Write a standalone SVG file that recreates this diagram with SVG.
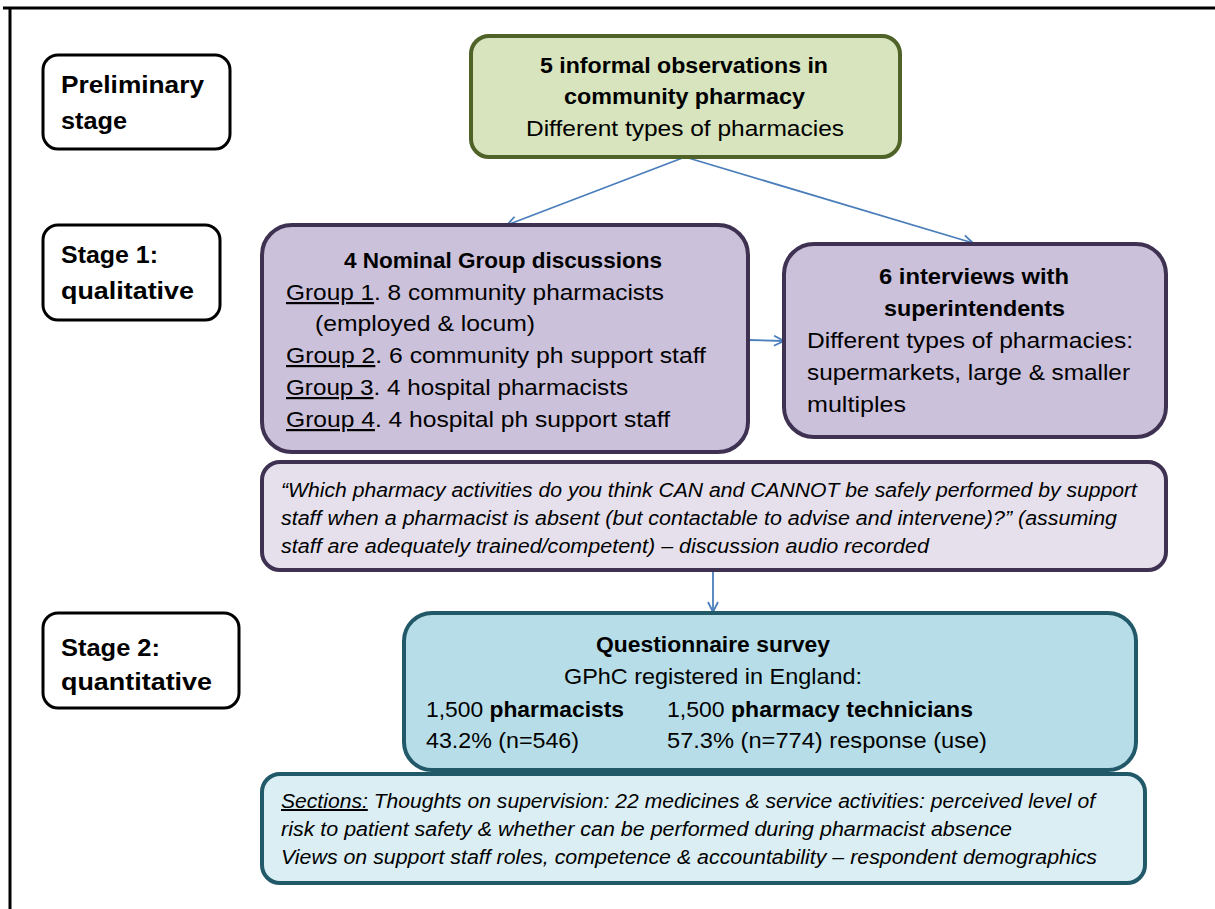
<svg xmlns="http://www.w3.org/2000/svg" width="1215" height="909" viewBox="0 0 1215 909">
<defs>
<style>
text{font-family:"Liberation Sans",Arial,sans-serif;fill:#000}
.st{font-size:23px;font-weight:bold}
.b{font-size:22px;font-weight:bold}
.r{font-size:22px}
.i{font-size:20px;font-style:italic}
.u{text-decoration:underline}
.stage{fill:#fff;stroke:#000;stroke-width:3}
.green{fill:#d7e4bd;stroke:#4f6228;stroke-width:4}
.purple{fill:#ccc1da;stroke:#3f3151;stroke-width:4}
.lilac{fill:#e5e0ec;stroke:#3f3151;stroke-width:4}
.teal{fill:#b7dee8;stroke:#215968;stroke-width:4}
.lteal{fill:#dbeef4;stroke:#215968;stroke-width:4}
.conn{fill:none;stroke:#4a7ebb;stroke-width:1.8}
</style>
<marker id="arr" viewBox="0 0 12 12" refX="11" refY="6" markerWidth="12" markerHeight="12" markerUnits="userSpaceOnUse" orient="auto">
<path d="M1,1 L11,6 L1,11" fill="none" stroke="#4a7ebb" stroke-width="1.8"/>
</marker>
</defs>
<rect width="1215" height="909" fill="#fff"/>
<path d="M3,8 H1215 M10,8 V909" stroke="#000" stroke-width="3" fill="none"/>

<g id="connectors">
<line class="conn" x1="685" y1="157" x2="507" y2="225" marker-end="url(#arr)"/>
<line class="conn" x1="685" y1="157" x2="973" y2="243" marker-end="url(#arr)"/>
<line class="conn" x1="748" y1="340" x2="784" y2="341" marker-end="url(#arr)"/>
<line class="conn" x1="713" y1="570" x2="713" y2="612" marker-end="url(#arr)"/>
</g>

<g id="preliminary">
<rect class="stage" x="43" y="55" width="187" height="94" rx="15"/>
<text class="st" x="61" y="93" textLength="143" lengthAdjust="spacingAndGlyphs">Preliminary</text>
<text class="st" x="61" y="129" textLength="66" lengthAdjust="spacingAndGlyphs">stage</text>
</g>
<g id="stage1">
<rect class="stage" x="43" y="225" width="177" height="95" rx="15"/>
<text class="st" x="61" y="263" textLength="97" lengthAdjust="spacingAndGlyphs">Stage 1:</text>
<text class="st" x="61" y="299" textLength="133" lengthAdjust="spacingAndGlyphs">qualitative</text>
</g>
<g id="stage2">
<rect class="stage" x="43" y="613" width="196" height="95" rx="15"/>
<text class="st" x="61" y="656" textLength="99" lengthAdjust="spacingAndGlyphs">Stage 2:</text>
<text class="st" x="61" y="690" textLength="151" lengthAdjust="spacingAndGlyphs">quantitative</text>
</g>

<g id="observations">
<rect class="green" x="471" y="36" width="429" height="121" rx="18"/>
<text class="b" x="540" y="73" textLength="288" lengthAdjust="spacingAndGlyphs">5 informal observations in</text>
<text class="b" x="564" y="104" textLength="241" lengthAdjust="spacingAndGlyphs">community pharmacy</text>
<text class="r" x="526" y="136" textLength="318" lengthAdjust="spacingAndGlyphs">Different types of pharmacies</text>
</g>

<g id="nominal">
<rect class="purple" x="262" y="225" width="486" height="227" rx="30"/>
<text class="b" x="344" y="268" textLength="318" lengthAdjust="spacingAndGlyphs">4 Nominal Group discussions</text>
<text class="r" x="286" y="300" textLength="378" lengthAdjust="spacingAndGlyphs"><tspan class="u">Group 1</tspan>. 8 community pharmacists</text>
<text class="r" x="315" y="331" textLength="220" lengthAdjust="spacingAndGlyphs">(employed &amp; locum)</text>
<text class="r" x="286" y="363" textLength="420" lengthAdjust="spacingAndGlyphs"><tspan class="u">Group 2</tspan>. 6 community ph support staff</text>
<text class="r" x="286" y="395" textLength="342" lengthAdjust="spacingAndGlyphs"><tspan class="u">Group 3</tspan>. 4 hospital pharmacists</text>
<text class="r" x="286" y="427" textLength="384" lengthAdjust="spacingAndGlyphs"><tspan class="u">Group 4</tspan>. 4 hospital ph support staff</text>
</g>

<g id="interviews">
<rect class="purple" x="784" y="244" width="382" height="193" rx="30"/>
<text class="b" x="879" y="284" textLength="190" lengthAdjust="spacingAndGlyphs">6 interviews with</text>
<text class="b" x="884" y="316" textLength="181" lengthAdjust="spacingAndGlyphs">superintendents</text>
<text class="r" x="807" y="348" textLength="326" lengthAdjust="spacingAndGlyphs">Different types of pharmacies:</text>
<text class="r" x="807" y="380" textLength="323" lengthAdjust="spacingAndGlyphs">supermarkets, large &amp; smaller</text>
<text class="r" x="807" y="412" textLength="99" lengthAdjust="spacingAndGlyphs">multiples</text>
</g>

<g id="question">
<rect class="lilac" x="262" y="462" width="904" height="108" rx="18"/>
<text class="i" x="281" y="497" textLength="856" lengthAdjust="spacingAndGlyphs">“Which pharmacy activities do you think CAN and CANNOT be safely performed by support</text>
<text class="i" x="281" y="525" textLength="836" lengthAdjust="spacingAndGlyphs">staff when a pharmacist is absent (but contactable to advise and intervene)?” (assuming</text>
<text class="i" x="281" y="553" textLength="648" lengthAdjust="spacingAndGlyphs">staff are adequately trained/competent) – discussion audio recorded</text>
</g>

<g id="survey">
<rect class="teal" x="404" y="613" width="732" height="157" rx="28"/>
<text class="b" x="596" y="652" textLength="234" lengthAdjust="spacingAndGlyphs">Questionnaire survey</text>
<text class="r" x="564" y="684" textLength="298" lengthAdjust="spacingAndGlyphs">GPhC registered in England:</text>
<text class="r" x="426" y="717" textLength="198" lengthAdjust="spacingAndGlyphs">1,500 <tspan font-weight="bold">pharmacists</tspan></text>
<text class="r" x="667" y="717" textLength="306" lengthAdjust="spacingAndGlyphs">1,500 <tspan font-weight="bold">pharmacy technicians</tspan></text>
<text class="r" x="426" y="748" textLength="153" lengthAdjust="spacingAndGlyphs">43.2% (n=546)</text>
<text class="r" x="667" y="748" textLength="320" lengthAdjust="spacingAndGlyphs">57.3% (n=774) response (use)</text>
</g>

<g id="sections">
<rect class="lteal" x="262" y="774" width="883" height="109" rx="18"/>
<text class="i" x="281" y="808" textLength="814" lengthAdjust="spacingAndGlyphs"><tspan class="u">Sections:</tspan> Thoughts on supervision: 22 medicines &amp; service activities: perceived level of</text>
<text class="i" x="281" y="836" textLength="731" lengthAdjust="spacingAndGlyphs">risk to patient safety &amp; whether can be performed during pharmacist absence</text>
<text class="i" x="281" y="864" textLength="816" lengthAdjust="spacingAndGlyphs">Views on support staff roles, competence &amp; accountability – respondent demographics</text>
</g>
</svg>
